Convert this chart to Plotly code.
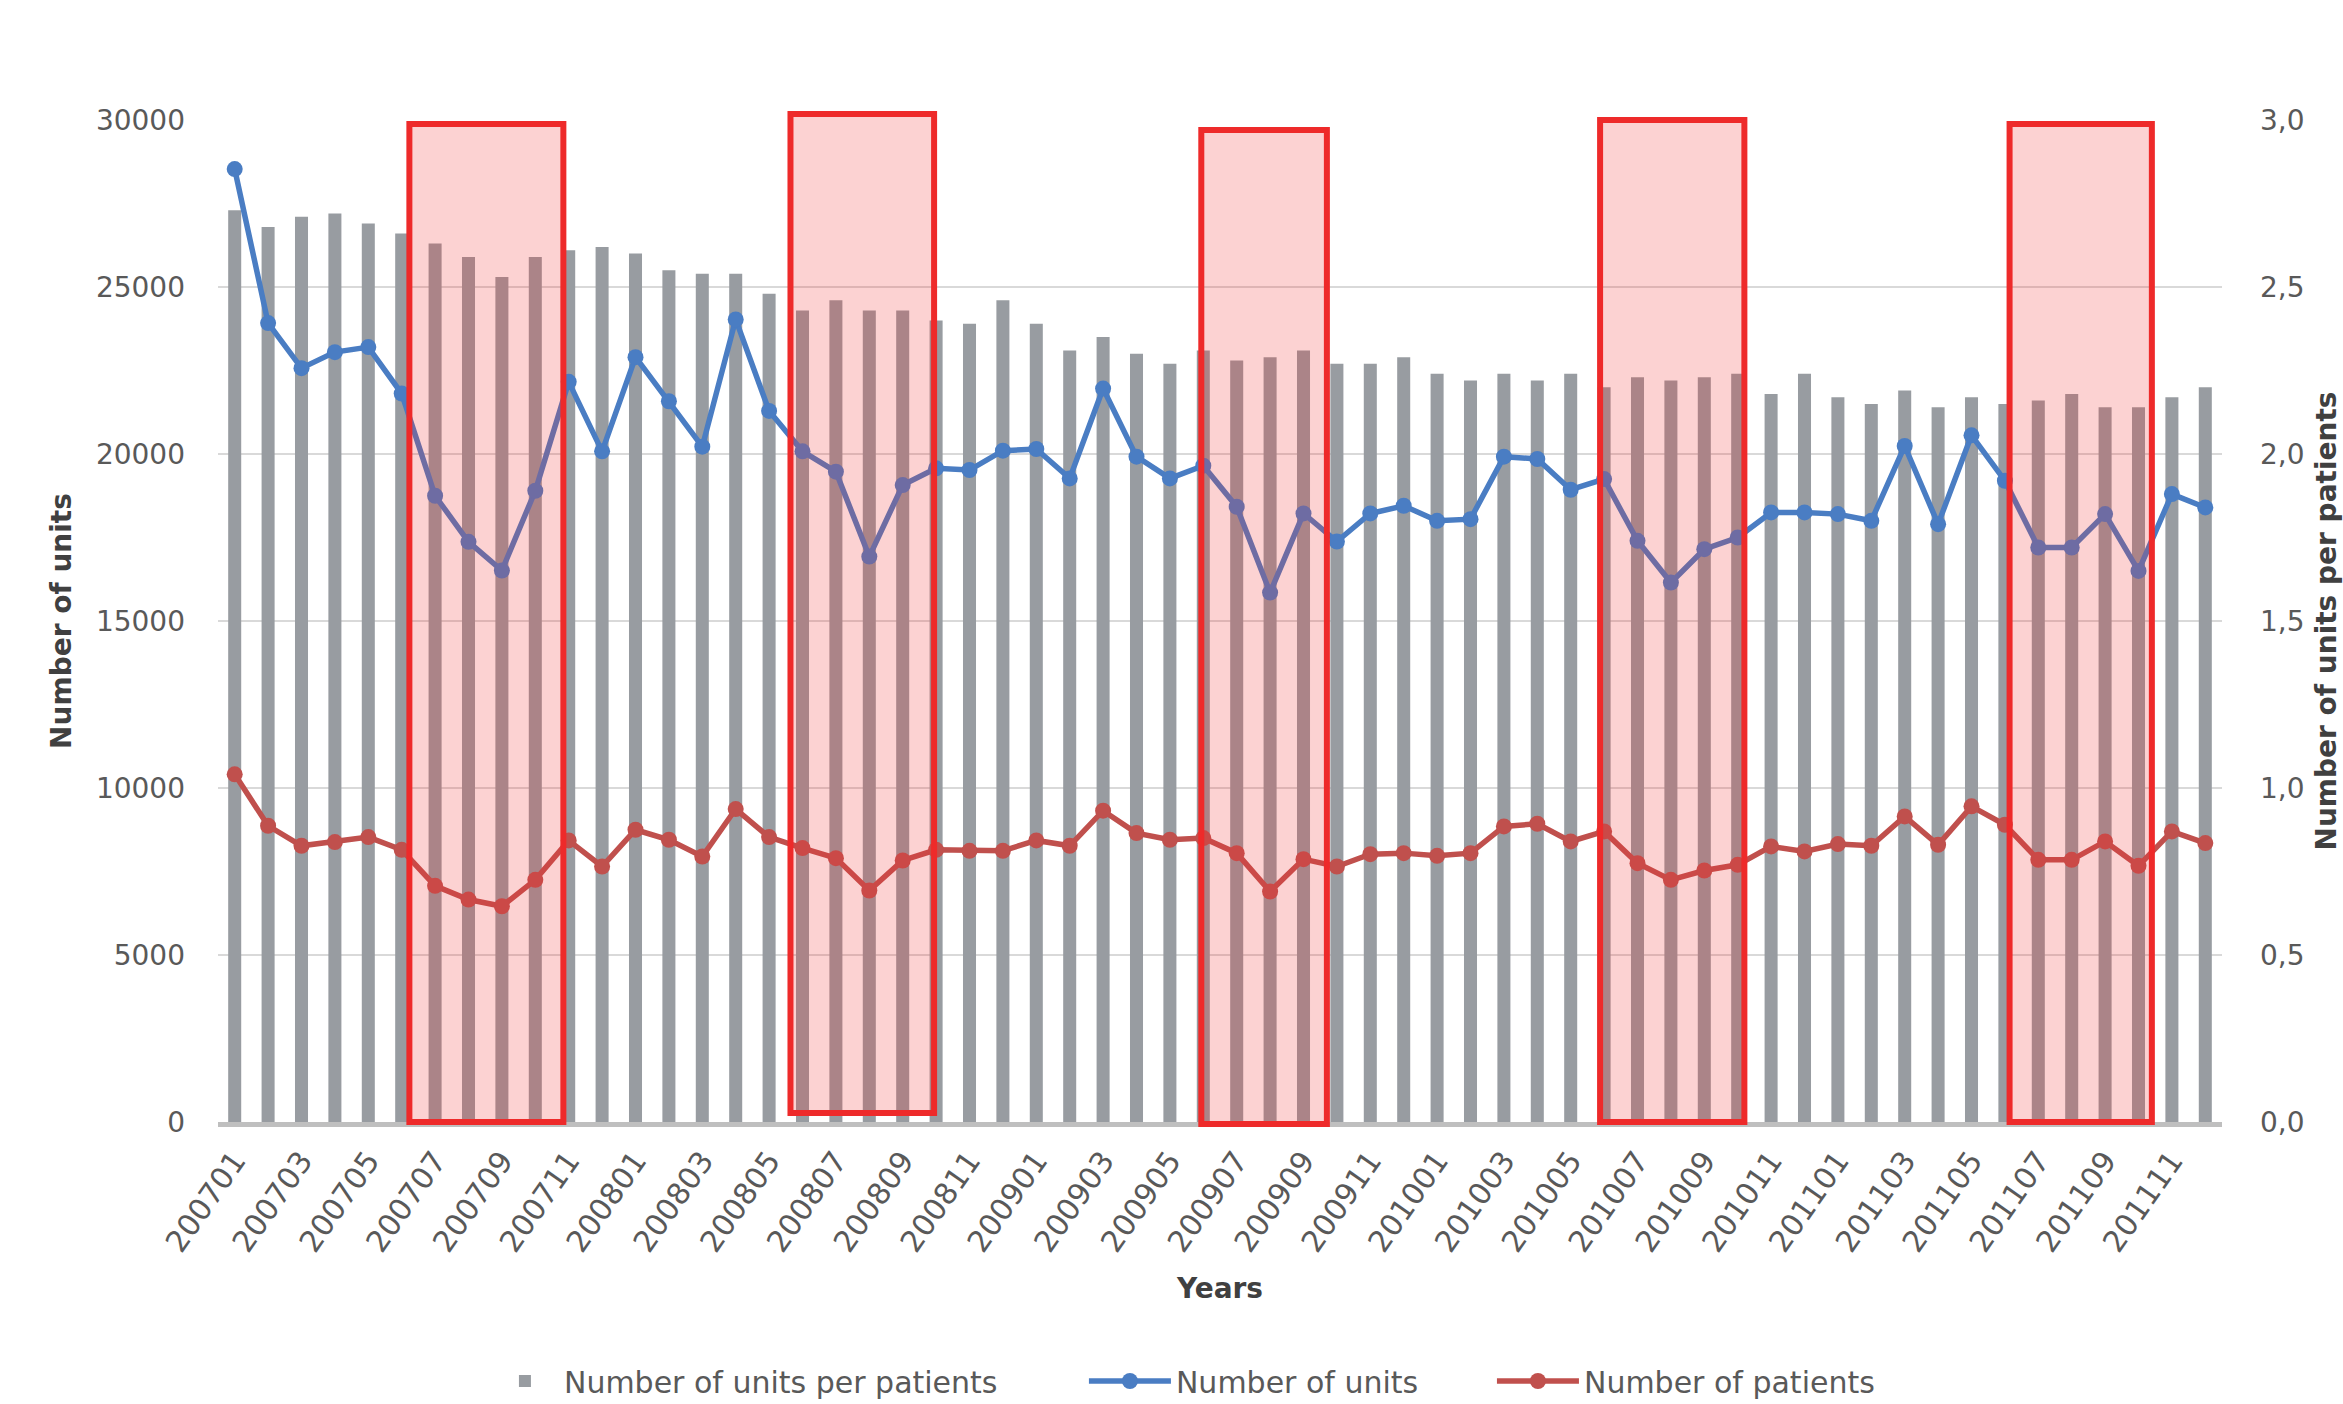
import plotly.graph_objects as go

# Monthly series, January 2007 to December 2011
months = [f"{y}{m:02d}" for y in range(2007, 2012) for m in range(1, 13)]
tick_labels = months[::2]

units_per_patient = [
    2.73, 2.68, 2.71, 2.72, 2.69, 2.66, 2.63, 2.59, 2.53, 2.59,
    2.61, 2.62, 2.60, 2.55, 2.54, 2.54, 2.48, 2.43, 2.46, 2.43,
    2.43, 2.40, 2.39, 2.46, 2.39, 2.31, 2.35, 2.30, 2.27, 2.31,
    2.28, 2.29, 2.31, 2.27, 2.27, 2.29, 2.24, 2.22, 2.24, 2.22,
    2.24, 2.20, 2.23, 2.22, 2.23, 2.24, 2.18, 2.24, 2.17, 2.15,
    2.19, 2.14, 2.17, 2.15, 2.16, 2.18, 2.14, 2.14, 2.17, 2.20,
]

units = [
    28530, 23920, 22570, 23050, 23200, 21810, 18750, 17370, 16510, 18900,
    22160, 20080, 22900, 21580, 20220, 24030, 21290, 20080, 19470, 16930,
    19070, 19570, 19520, 20100, 20150, 19270, 21960, 19920, 19270, 19650,
    18420, 15850, 18220, 17380, 18220, 18450, 18000, 18050, 19920, 19850,
    18930, 19250, 17400, 16150, 17150, 17500, 18250, 18250, 18200, 18000,
    20240, 17900, 20560, 19200, 17200, 17200, 18200, 16500, 18800, 18400,
]

patients = [
    10410, 8870, 8270, 8380, 8530, 8150, 7070, 6660, 6460, 7250,
    8430, 7650, 8750, 8450, 7950, 9370, 8530, 8200, 7900, 6930,
    7830, 8150, 8120, 8120, 8430, 8270, 9320, 8650, 8450, 8500,
    8050, 6900, 7870, 7650, 8020, 8050, 7970, 8050, 8850, 8930,
    8400, 8700, 7750, 7250, 7530, 7700, 8250, 8100, 8320, 8270,
    9150, 8300, 9450, 8900, 7850, 7850, 8400, 7670, 8700, 8350,
]

# Summer periods marked on the chart: (x0, x1) in category positions, (y0, y1) in plot fractions
summer_boxes = [
    (5.23, 9.84, 0.000, 0.996),
    (16.64, 20.94, 0.009, 1.006),
    (28.94, 32.70, -0.002, 0.990),
    (40.88, 45.20, 0.000, 1.000),
    (53.14, 57.40, 0.000, 0.996),
]

FONT = "DejaVu Sans"
TICK_COLOR = "#595959"
TITLE_COLOR = "#404040"
GRID = "#D9D9D9"
BLUE = "#4A7DC3"
RED = "#C0504D"

fig = go.Figure()

# Ratio bars sit on the primary axis (drawn on the right) so the lines stay on top
fig.add_trace(go.Bar(
    x=months, y=units_per_patient, name="Number of units per patients",
    marker=dict(color="#989CA1", line=dict(width=0)), yaxis="y", legend="legend",
))
fig.add_trace(go.Scatter(
    x=months, y=units, name="Number of units", mode="lines+markers",
    line=dict(color=BLUE, width=5.5), marker=dict(color=BLUE, size=16),
    yaxis="y2", legend="legend2",
))
fig.add_trace(go.Scatter(
    x=months, y=patients, name="Number of patients", mode="lines+markers",
    line=dict(color=RED, width=5.5), marker=dict(color=RED, size=16),
    yaxis="y2", legend="legend3",
))

for x0, x1, y0, y1 in summer_boxes:
    fig.add_shape(
        type="rect", xref="x", yref="paper", x0=x0, x1=x1, y0=y0, y1=y1,
        fillcolor="rgba(240,50,50,0.22)", line=dict(color="#EE2A2A", width=6),
        layer="above",
    )

legend_font = dict(family=FONT, size=30, color=TICK_COLOR)
legend_common = dict(orientation="h", xanchor="left", y=-0.2585, yanchor="middle",
                     font=legend_font, bgcolor="rgba(0,0,0,0)")

title_font = dict(family=FONT, size=28, color=TITLE_COLOR, weight="bold")

fig.update_layout(
    width=2343, height=1404,
    margin=dict(l=218, r=121, t=120, b=282, autoexpand=False),
    paper_bgcolor="white", plot_bgcolor="white",
    separators=",.",
    bargap=0.61,
    font=dict(family=FONT, size=28, color=TICK_COLOR),
    showlegend=True,
    legend=dict(x=0.1337, itemwidth=68, **legend_common),
    legend2=dict(x=0.4321, itemwidth=82, **legend_common),
    legend3=dict(x=0.6357, itemwidth=82, **legend_common),
    xaxis=dict(
        type="category", tickmode="array", tickvals=tick_labels, ticktext=tick_labels,
        tickangle=-55, tickfont=dict(family=FONT, size=30, color=TICK_COLOR),
        showline=True, linecolor="#BFBFBF", linewidth=5, showgrid=False,
        ticks="", range=[-0.5, 59.5], automargin=False, ticklabelstandoff=4,
        title=dict(text="Years", standoff=22, font=title_font),
    ),
    yaxis=dict(
        side="right", range=[0, 3], dtick=0.5, tickformat=".1f",
        showgrid=True, gridcolor=GRID, gridwidth=2, zeroline=False,
        showline=False, ticks="", ticklabelstandoff=37, automargin=False,
        tickfont=dict(family=FONT, size=28, color=TICK_COLOR),
        title=dict(text="Number of units per patients", standoff=28, font=title_font),
    ),
    yaxis2=dict(
        overlaying="y", side="left", range=[0, 30000], dtick=5000, tickformat="d",
        showgrid=False, zeroline=False, showline=False, ticks="", ticklabelstandoff=32,
        automargin=False,
        tickfont=dict(family=FONT, size=28, color=TICK_COLOR),
        title=dict(text="Number of units", standoff=16, font=title_font),
    ),
)

fig.write_html("out.html")
